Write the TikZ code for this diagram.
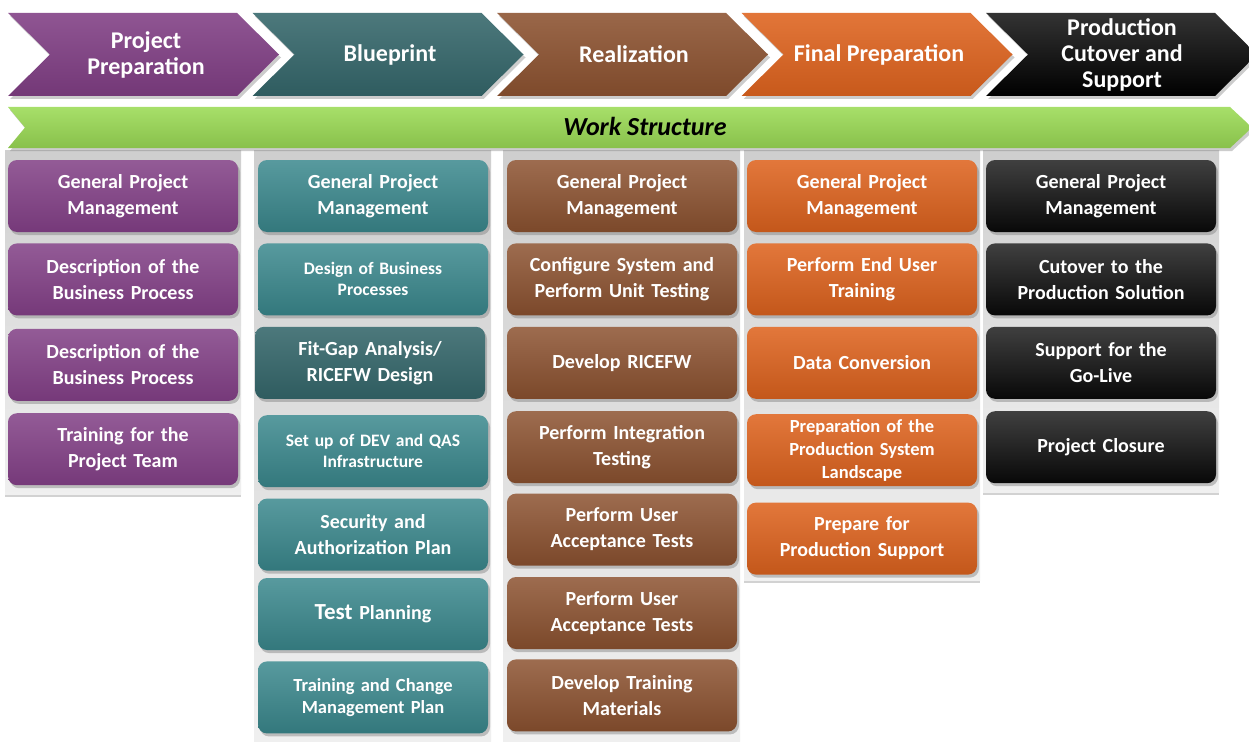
\documentclass[tikz,border=0pt]{standalone}
\usepackage{fontspec}
\setmainfont{Carlito}
\usetikzlibrary{positioning,shadows}

\definecolor{prepPurple}{RGB}{128,62,132}
\definecolor{blueTeal}{RGB}{58,136,141}
\definecolor{blueDark}{RGB}{52,102,106}
\definecolor{realBrown}{RGB}{140,82,48}
\definecolor{finOrange}{RGB}{222,99,30}
\definecolor{liveBlack}{RGB}{8,8,8}
\definecolor{workGreen}{RGB}{155,219,85}

\tikzset{
  task/.style={rectangle, rounded corners=9pt, minimum width=230pt, minimum height=72pt,
    text width=226pt, align=center, text=white, inner sep=2pt,
    font=\bfseries\fontsize{20}{26}\selectfont,
    drop shadow={opacity=0.45, shadow xshift=2pt, shadow yshift=-3pt}},
  small/.style={font=\bfseries\fontsize{17.5}{21}\selectfont},
  prep/.style={top color=prepPurple!85!white, bottom color=prepPurple!92!black},
  blue/.style={top color=blueTeal!85!white, bottom color=blueTeal!88!black},
  real/.style={top color=realBrown!85!white, bottom color=realBrown!88!black},
  fin/.style={top color=finOrange!87!white, bottom color=finOrange!88!black},
  live/.style={top color=black!75, bottom color=liveBlack},
  phase/.style={drop shadow={opacity=0.4, shadow xshift=2pt, shadow yshift=-3pt}},
  phasetext/.style={align=center, text=white, font=\bfseries\fontsize{24}{26}\selectfont},
  panel/.style={top color=gray!38, bottom color=gray!12,
    drop shadow={opacity=0.35, shadow xshift=0pt, shadow yshift=-3pt}}
}

\begin{document}
\begin{tikzpicture}[x=1pt, y=-1pt]
        \useasboundingbox[fill=white] (0,0) rectangle (1249,741);

        % grey backgrounds behind the columns
        \path[panel] (5,150) rectangle (241,494);
        \path[panel] (254,150) rectangle (491,745);
        \path[panel] (503,150) rectangle (740,745);
        \path[panel] (744,150) rectangle (980,580);
        \path[panel] (983,150) rectangle (1219,492);

        % phase arrows
        \path[phase, top color=prepPurple!88!white, bottom color=prepPurple!90!black]
          (8,13) -- (237,13) -- (279,54.5) -- (237,96) -- (8,96) -- (50,54.5) -- cycle;
        \path[phase, top color=blueDark!88!white, bottom color=blueDark!90!black]
          (252.5,13) -- (481.5,13) -- (523.5,54.5) -- (481.5,96) -- (252.5,96) -- (294.5,54.5) -- cycle;
        \path[phase, top color=realBrown!88!white, bottom color=realBrown!90!black]
          (497,13) -- (726,13) -- (768,54.5) -- (726,96) -- (497,96) -- (539,54.5) -- cycle;
        \path[phase, top color=finOrange!88!white, bottom color=finOrange!90!black]
          (741.5,13) -- (970.5,13) -- (1012.5,54.5) -- (970.5,96) -- (741.5,96) -- (783.5,54.5) -- cycle;
        \path[phase, top color=black!80, bottom color=black]
          (986,13) -- (1215,13) -- (1257,54.5) -- (1215,96) -- (986,96) -- (1028,54.5) -- cycle;

        \node[phasetext] (ppHead) at (146,54.5) {Project\\Preparation};
        \node[phasetext] (bpHead) at (390,54.5) {Blueprint};
        \node[phasetext] (rlHead) at (634,54.5) {Realization};
        \node[phasetext] (fpHead) at (879,54.5) {Final Preparation};
        \node[phasetext] (glHead) at (1122,54.5) {Production\\Cutover and\\Support};

        % work structure bar
        \path[phase, top color=workGreen!88!white, bottom color=workGreen!88!black]
          (8,107) -- (1230,107) -- (1252,127.5) -- (1230,148) -- (8,148) -- (25,127.5) -- cycle;
        \node[font=\bfseries\itshape\fontsize{26}{28}\selectfont] (work) at (645,126) {Work Structure};

        % project preparation
        \node[task, prep] (pp1) at (123,196) {General Project\\Management};
        \node[task, prep] (pp2) [below = 11pt of pp1] {Description of the\\Business Process};
        \node[task, prep] (pp3) [below = 13pt of pp2] {Description of the\\Business Process};
        \node[task, prep] (pp4) [below = 12pt of pp3] {Training for the\\Project Team};

        % blueprint
        \node[task, blue] (bp1) at (373,196) {General Project\\Management};
        \node[task, blue, small] (bp2) [below = 11pt of bp1] {Design of Business\\Processes};
        \node[task, top color=blueDark!88!white, bottom color=blueDark!90!black] (bp3) [below = 11pt of bp2, xshift=-3pt] {Fit-Gap Analysis/\\RICEFW Design};
        \node[task, blue, small] (bp4) [below = 16pt of bp3, xshift=3pt] {Set up of DEV and QAS\\Infrastructure};
        \node[task, blue] (bp5) [below = 11pt of bp4] {Security and\\Authorization Plan};
        \node[task, blue] (bp6) [below = 7pt of bp5] {{\fontsize{23}{26}\selectfont Test} Planning};
        \node[task, blue, font=\bfseries\fontsize{18.5}{22}\selectfont] (bp7) [below = 11pt of bp6] {Training and Change\\Management Plan};

        % realization
        \node[task, real] (rl1) at (622,196) {General Project\\Management};
        \node[task, real] (rl2) [below = 11pt of rl1] {Configure System and\\Perform Unit Testing};
        \node[task, real] (rl3) [below = 11pt of rl2] {Develop RICEFW};
        \node[task, real] (rl4) [below = 12pt of rl3] {Perform Integration\\Testing};
        \node[task, real] (rl5) [below = 10pt of rl4] {Perform User\\Acceptance Tests};
        \node[task, real] (rl6) [below = 11pt of rl5] {Perform User\\Acceptance Tests};
        \node[task, real] (rl7) [below = 10pt of rl6] {Develop Training\\Materials};

        % final preparation
        \node[task, fin] (fp1) at (862,196) {General Project\\Management};
        \node[task, fin] (fp2) [below = 11pt of fp1] {Perform End User\\Training};
        \node[task, fin] (fp3) [below = 11pt of fp2] {Data Conversion};
        \node[task, fin, font=\bfseries\fontsize{18.5}{23}\selectfont] (fp4) [below = 15pt of fp3] {Preparation of the\\Production System\\Landscape};
        \node[task, fin] (fp5) [below = 16pt of fp4] {Prepare for\\Production Support};

        % go-live and support
        \node[task, live] (gl1) at (1101,196) {General Project\\Management};
        \node[task, live] (gl2) [below = 11pt of gl1] {Cutover to the\\Production Solution};
        \node[task, live] (gl3) [below = 11pt of gl2] {Support for the\\Go-Live};
        \node[task, live] (gl4) [below = 12pt of gl3] {Project Closure};
      \end{tikzpicture}
\end{document}
